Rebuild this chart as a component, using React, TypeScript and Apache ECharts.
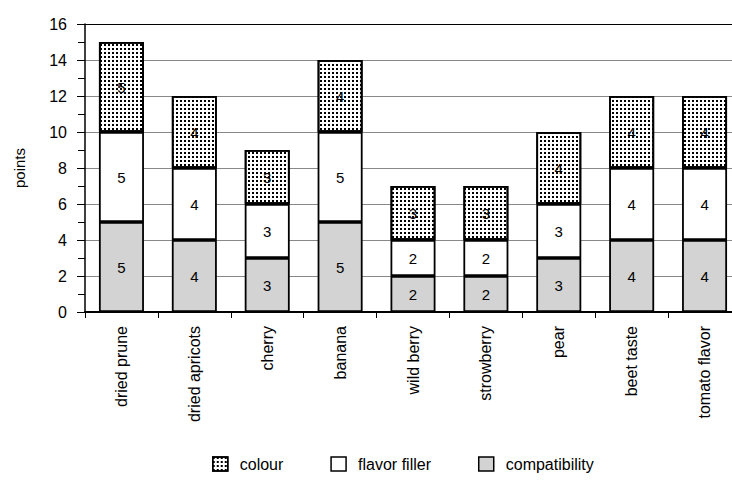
import React, { useEffect, useRef } from "react";
import * as echarts from "echarts";

const categories = [
  "dried prune",
  "dried apricots",
  "cherry",
  "banana",
  "wild berry",
  "strowberry",
  "pear",
  "beet taste",
  "tomato flavor",
];
const compatibility = [5, 4, 3, 5, 2, 2, 3, 4, 4];
const flavorFiller = [5, 4, 3, 5, 2, 2, 3, 4, 4];
const colour = [5, 4, 3, 4, 3, 3, 4, 4, 4];
const yTicks = { min: 0, max: 16, interval: 2 };

const FONT = "'Liberation Sans', Arial, sans-serif";

export default function App() {
  const ref = useRef<HTMLDivElement>(null);
  useEffect(() => {
    if (!ref.current) return;
    const chart = echarts.init(ref.current, undefined, { renderer: "svg" });
    const label = {
      show: true,
      position: "inside",
      color: "#000",
      fontSize: 15,
      fontFamily: FONT,
    };
    const border = { borderColor: "#000", borderWidth: 1.8 };
    chart.setOption({
      animation: false,
      backgroundColor: "#fff",
      textStyle: { fontFamily: FONT },
      grid: { left: 85, top: 24, bottom: 187, right: 0 },
      legend: {
        left: 212,
        top: 456,
        padding: 0,
        icon: "rect",
        itemWidth: 15,
        itemHeight: 14,
        itemGap: 47,
        itemStyle: { borderColor: "#000", borderWidth: 1.5 },
        textStyle: { fontSize: 16, color: "#000", fontFamily: FONT, padding: [0, 0, 0, 7] },
        data: ["colour", "flavor filler", "compatibility"],
      },
      xAxis: {
        type: "category",
        data: categories,
        axisLine: { lineStyle: { color: "#000", width: 2 } },
        axisTick: { show: true, length: 6, lineStyle: { color: "#000", width: 1 } },
        axisLabel: {
          rotate: 90,
          fontSize: 16,
          color: "#000",
          fontFamily: FONT,
          margin: 14,
          interval: 0,
        },
      },
      yAxis: {
        type: "value",
        min: yTicks.min,
        max: yTicks.max,
        interval: yTicks.interval,
        name: "points",
        nameLocation: "middle",
        nameGap: 58,
        nameTextStyle: { fontSize: 15, color: "#000", fontFamily: FONT },
        axisLine: { show: true, lineStyle: { color: "#000", width: 1.5 } },
        axisTick: { show: true, length: 8, lineStyle: { color: "#000" } },
        minorTick: { show: true, splitNumber: 2, length: 7, lineStyle: { color: "#000" } },
        axisLabel: { fontSize: 16, color: "#000", fontFamily: FONT, margin: 18 },
        splitLine: {
          show: true,
          lineStyle: {
            color: ["#000", "#888", "#888", "#888", "#888", "#888", "#888", "#888", "#000"],
            width: 1,
          },
        },
      },
      series: [
        {
          name: "compatibility",
          type: "bar",
          stack: "total",
          barWidth: 45,
          data: compatibility,
          itemStyle: { color: "#d3d3d3", ...border },
          label,
        },
        {
          name: "flavor filler",
          type: "bar",
          stack: "total",
          barWidth: 45,
          data: flavorFiller,
          itemStyle: { color: "#fff", ...border },
          label,
        },
        {
          name: "colour",
          type: "bar",
          stack: "total",
          barWidth: 45,
          data: colour,
          itemStyle: {
            color: "#fff",
            ...border,
            decal: {
              symbol: "rect",
              symbolSize: 1,
              color: "#000",
              dashArrayX: [2, 2],
              dashArrayY: [2, 2],
              rotation: 0,
            },
          },
          label,
        },
      ],
    });
    return () => chart.dispose();
  }, []);
  return (
    <div style={{ position: "absolute", left: 0, top: 0, width: 732, height: 499, overflow: "hidden" }}>
      <div ref={ref} style={{ width: 741, height: 499 }} />
    </div>
  );
}
